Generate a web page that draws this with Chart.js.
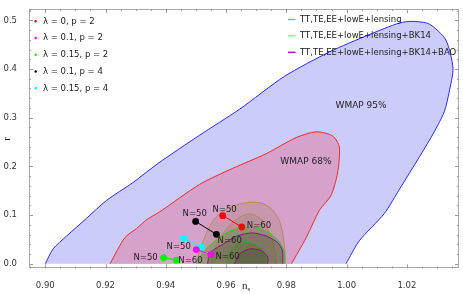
<!DOCTYPE html>
<html>
<head>
<meta charset="utf-8">
<script src="https://cdn.jsdelivr.net/npm/chart.js@4"></script>
<style>
  html, body { margin: 0; padding: 0; background: #fff; }
  canvas { display: block; }
</style>
</head>
<body>
<canvas id="chart" width="463" height="294"></canvas>
<script>
// contours (n_s, r), each closes along r = 0
const wmap95Ns = [0.900, 0.9026, 0.9071, 0.9137, 0.9203, 0.929, 0.9374, 0.9512, 0.9645, 0.9794, 0.9943, 1.0075, 1.0175, 1.0217, 1.0274, 1.0329, 1.0353, 1.034, 1.0324, 1.028, 1.0169, 1.0125, 1.0042, 0.9998];
const wmap95R  = [0, 0.0306, 0.057, 0.0934, 0.130, 0.1664, 0.206, 0.264, 0.3175, 0.385, 0.435, 0.4706, 0.4944, 0.4978, 0.4924, 0.46, 0.4016, 0.352, 0.312, 0.259, 0.1465, 0.103, 0.047, 0];

const wmap68Ns = [0.9215, 0.9264, 0.9303, 0.9336, 0.938, 0.9512, 0.9622, 0.9733, 0.9832, 0.9899, 0.9954, 0.9976, 0.997, 0.9948, 0.991, 0.9866, 0.9817];
const wmap68R  = [0, 0.0537, 0.0724, 0.0903, 0.1068, 0.163, 0.196, 0.226, 0.259, 0.271, 0.2624, 0.2394, 0.1863, 0.140, 0.110, 0.0537, 0];

const planck95Ns = [0.9502, 0.9512, 0.9532, 0.9555, 0.9585, 0.9622, 0.9678, 0.9718, 0.9751, 0.9777, 0.979, 0.9795, 0.9795];
const planck95R  = [0, 0.027, 0.0588, 0.0867, 0.1066, 0.1185, 0.1264, 0.1245, 0.1125, 0.0887, 0.0549, 0.027, 0];
const planck68Ns = [0.9552, 0.9562, 0.9585, 0.9628, 0.9678, 0.9718, 0.9744, 0.9761, 0.9767];
const planck68R  = [0, 0.031, 0.0588, 0.0887, 0.1026, 0.0907, 0.0628, 0.031, 0];

const bk95Ns = [0.9506, 0.9516, 0.9535, 0.9572, 0.9612, 0.9661, 0.9704, 0.9744, 0.9777, 0.9794, 0.9795];
const bk95R  = [0, 0.0151, 0.031, 0.0509, 0.0668, 0.0748, 0.0738, 0.0628, 0.0449, 0.0231, 0];
const bk68Ns = [0.9601, 0.9612, 0.9638, 0.9668, 0.9704, 0.9728, 0.9729];
const bk68R  = [0, 0.027, 0.039, 0.0435, 0.037, 0.0211, 0];

const bao95Ns = [0.9539, 0.9545, 0.9569, 0.9592, 0.9635, 0.9688, 0.9734, 0.9771, 0.9787, 0.9788];
const bao95R  = [0, 0.0211, 0.033, 0.041, 0.0569, 0.0634, 0.0569, 0.0435, 0.027, 0];
const bao68Ns = [0.9628, 0.9645, 0.9678, 0.9717, 0.9738, 0.9738];
const bao68R  = [0, 0.0205, 0.0304, 0.027, 0.0137, 0];

// model predictions, [N=50, N=60]
const modelNames = ['λ = 0, p = 2', 'λ = 0.1, p = 2', 'λ = 0.15, p = 2', 'λ = 0.1, p = 4', 'λ = 0.15, p = 4'];
const modelColors = ['#ff0000', '#ff00ff', '#00ee00', '#000000', '#00ffff'];
const modelNs = [[0.9589, 0.9652], [0.9501, 0.9549], [0.9393, 0.9435], [0.9499, 0.9568], [0.946, 0.9518]];
const modelR  = [[0.0988, 0.0755], [0.0292, 0.0187], [0.0127, 0.0074], [0.0869, 0.0604], [0.0525, 0.0338]];

const nLabelText = ['N=50', 'N=60', 'N=50', 'N=60', 'N=50', 'N=50', 'N=60', 'N=60'];
const nLabelNs   = [0.9595, 0.9709, 0.9496, 0.9612, 0.9443, 0.9333, 0.9482, 0.9605];
const nLabelR    = [0.1106, 0.0787, 0.1026, 0.0469, 0.035, 0.0131, 0.0052, 0.0151];

const regionText = ['WMAP 95%', 'WMAP 68%'];
const regionNs   = [1.0048, 0.9865];
const regionR    = [0.325, 0.209];

const planckNames  = ['TT,TE,EE+lowE+lensing', 'TT,TE,EE+lowE+lensing+BK14', 'TT,TE,EE+lowE+lensing+BK14+BAO'];
const planckColors = ['#c4925e', '#7cf07c', '#8a1a8a'];

const xTicks = [0.90, 0.92, 0.94, 0.96, 0.98, 1.00, 1.02];
const yTicks = [0.0, 0.1, 0.2, 0.3, 0.4, 0.5];

const FONT = 'DejaVu Sans';

function pts(xs, ys) {
  return xs.map((x, i) => ({ x: x, y: ys[i] }));
}

function contour(xs, ys, line, area, order) {
  return {
    data: pts(xs, ys),
    showLine: true,
    borderColor: line,
    borderWidth: 1,
    tension: 0.25,
    pointRadius: 0,
    areaColor: area,
    order: order
  };
}

const datasets = [
  contour(wmap95Ns, wmap95R, '#2a2aee', 'rgb(204,204,252)', 20),
  contour(wmap68Ns, wmap68R, '#ee2a2a', 'rgb(214,162,204)', 19),
  contour(planck95Ns, planck95R, '#b88a5c', 'rgba(150,120,80,0.25)', 18),
  contour(planck68Ns, planck68R, '#b88a5c', 'rgba(150,120,80,0.22)', 17),
  contour(bk95Ns, bk95R, '#22cc22', 'rgba(70,140,20,0.3)', 16),
  contour(bk68Ns, bk68R, '#22cc22', 'rgba(70,140,20,0.25)', 15),
  contour(bao95Ns, bao95R, '#8a108a', 'rgba(60,50,50,0.25)', 14),
  contour(bao68Ns, bao68R, '#8a108a', 'rgba(60,50,50,0.25)', 13)
];

modelNames.forEach((name, i) => {
  datasets.push({
    label: name,
    data: pts(modelNs[i], modelR[i]),
    showLine: true,
    borderColor: modelColors[i],
    borderWidth: 1,
    pointRadius: 3.4,
    pointBorderWidth: 0,
    pointBackgroundColor: modelColors[i],
    order: 1
  });
});

// fill each contour with its own bezier path, just before its outline is drawn
const contourFill = {
  id: 'contourFill',
  beforeDatasetDraw(chart, args) {
    const ds = chart.data.datasets[args.index];
    if (!ds.areaColor) return;
    const p = args.meta.data;
    const a = chart.chartArea;
    const ctx = chart.ctx;
    ctx.save();
    ctx.beginPath();
    ctx.rect(a.left, a.top, a.right - a.left, a.bottom - a.top);
    ctx.clip();
    ctx.beginPath();
    ctx.moveTo(p[0].x, p[0].y);
    for (let i = 1; i < p.length; i++) {
      ctx.bezierCurveTo(p[i - 1].cp2x, p[i - 1].cp2y, p[i].cp1x, p[i].cp1y, p[i].x, p[i].y);
    }
    ctx.closePath();
    ctx.fillStyle = ds.areaColor;
    ctx.fill();
    ctx.restore();
  }
};

// Mathematica-like frame with inward ticks, labels and legends
const decorations = {
  id: 'decorations',
  afterDatasetsDraw(chart) {
    const ctx = chart.ctx;
    const a = chart.chartArea;
    const xs = chart.scales.x, ys = chart.scales.y;
    ctx.save();

    ctx.strokeStyle = '#a8a8a8';
    ctx.lineWidth = 1;
    ctx.strokeRect(Math.round(a.left) + 0.5, Math.round(a.top) + 0.5,
      Math.round(a.right - a.left) - 1, Math.round(a.bottom - a.top) - 1);

    ctx.strokeStyle = '#9a9a9a';
    ctx.beginPath();
    for (let k = 0; k <= 30; k++) {
      const v = 0.895 + k * 0.005;
      if (v < xs.min || v > xs.max) continue;
      const major = k % 4 === 1;
      const len = major ? 4 : 2;
      const px = Math.round(xs.getPixelForValue(v)) + 0.5;
      ctx.moveTo(px, a.bottom); ctx.lineTo(px, a.bottom - len);
      ctx.moveTo(px, a.top); ctx.lineTo(px, a.top + len);
    }
    for (let k = 0; k <= 26; k++) {
      const v = k * 0.02;
      if (v > ys.max) continue;
      const major = k % 5 === 0;
      const len = major ? 4 : 2;
      const py = Math.round(ys.getPixelForValue(v)) + 0.5;
      ctx.moveTo(a.left, py); ctx.lineTo(a.left + len, py);
      ctx.moveTo(a.right, py); ctx.lineTo(a.right - len, py);
    }
    ctx.stroke();

    // x axis title n_s
    ctx.fillStyle = '#222';
    ctx.textBaseline = 'alphabetic';
    ctx.textAlign = 'left';
    ctx.font = '11px "Liberation Serif"';
    const nx = (a.left + a.right) / 2 - 2;
    ctx.fillText('n', nx, 289);
    ctx.font = '7px "Liberation Serif"';
    ctx.fillText('s', nx + 5.6, 291);

    // N labels
    ctx.font = '8.5px "' + FONT + '"';
    ctx.textAlign = 'center';
    ctx.textBaseline = 'middle';
    ctx.fillStyle = '#222';
    nLabelText.forEach((t, i) => {
      ctx.fillText(t, xs.getPixelForValue(nLabelNs[i]), ys.getPixelForValue(nLabelR[i]));
    });
    ctx.font = '9px "' + FONT + '"';
    regionText.forEach((t, i) => {
      ctx.fillText(t, xs.getPixelForValue(regionNs[i]), ys.getPixelForValue(regionR[i]));
    });

    // left legend
    ctx.font = '8.5px "' + FONT + '"';
    ctx.textAlign = 'left';
    modelNames.forEach((t, i) => {
      const y = a.top + 12.2 + i * 16.75;
      ctx.fillStyle = modelColors[i];
      ctx.beginPath();
      ctx.arc(a.left + 6.7, y, 1.2, 0, Math.PI * 2);
      ctx.fill();
      ctx.fillStyle = '#222';
      ctx.fillText(t, a.left + 14, y);
    });

    // right legend
    planckNames.forEach((t, i) => {
      const y = a.top + 10.4 + i * 16.4;
      ctx.strokeStyle = planckColors[i];
      ctx.lineWidth = 1.3;
      ctx.beginPath();
      ctx.moveTo(288, y); ctx.lineTo(295.5, y);
      ctx.stroke();
      ctx.fillStyle = '#222';
      ctx.fillText(t, 300, y);
    });

    ctx.restore();
  }
};

new Chart(document.getElementById('chart'), {
  type: 'scatter',
  data: { datasets: datasets },
  plugins: [contourFill, decorations],
  options: {
    responsive: false,
    animation: false,
    layout: { padding: { top: 0.5, right: 3, left: 0, bottom: 0 } },
    plugins: {
      legend: { display: false },
      tooltip: { enabled: false }
    },
    scales: {
      x: {
        type: 'linear',
        min: 0.8946,
        max: 1.0373,
        grid: { display: false },
        border: { display: false },
        afterBuildTicks: s => { s.ticks = xTicks.map(v => ({ value: v })); },
        afterFit: s => { s.height = 25.5; },
        ticks: {
          callback: v => v.toFixed(2),
          font: { family: FONT, size: 8.5 },
          color: '#333',
          padding: 4,
          maxRotation: 0,
          autoSkip: false
        }
      },
      y: {
        type: 'linear',
        min: -0.0097,
        max: 0.523,
        grid: { display: false },
        border: { display: false },
        afterBuildTicks: s => { s.ticks = yTicks.map(v => ({ value: v })); },
        afterFit: s => { s.width = 29; },
        title: {
          display: true,
          text: 'r',
          font: { family: 'Liberation Serif', size: 11 },
          color: '#222',
          padding: { top: 1, bottom: 0 }
        },
        ticks: {
          callback: v => v.toFixed(1),
          font: { family: FONT, size: 8.5 },
          color: '#333',
          padding: 4,
          autoSkip: false
        }
      }
    }
  }
});
</script>
</body>
</html>
